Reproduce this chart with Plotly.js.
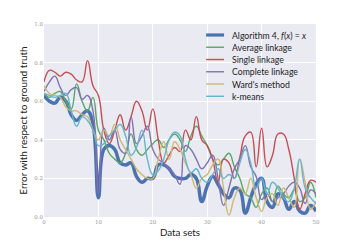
<!DOCTYPE html>
<html>
<head>
<meta charset="utf-8">
<script src="https://cdn.plot.ly/plotly-3.0.1.min.js"></script>
<style>html,body{margin:0;padding:0;background:#fff;}#chart{width:352px;height:242px;}</style>
</head>
<body>
<div id="chart"></div>
<script>
const dataSets = Array.from({length: 51}, (_, i) => i);
const seriesNames = ["Algorithm 4, <i>f</i>(<i>x</i>) = <i>x</i>", "Average linkage", "Single linkage", "Complete linkage", "Ward's method", "k-means"];
const algorithm4 = [0.63,0.60,0.59,0.62,0.60,0.53,0.50,0.53,0.55,0.48,0.10,0.35,0.37,0.35,0.28,0.27,0.28,0.21,0.18,0.20,0.20,0.27,0.27,0.25,0.21,0.20,0.20,0.22,0.20,0.08,0.16,0.21,0.17,0.12,0.10,0.15,0.14,0.02,0.10,0.17,0.20,0.08,0.05,0.12,0.10,0.04,0.08,0.03,0.02,0.06,0.03];
const averageLinkage = [0.64,0.62,0.64,0.65,0.60,0.56,0.69,0.60,0.55,0.62,0.45,0.40,0.33,0.30,0.28,0.33,0.43,0.35,0.32,0.35,0.38,0.40,0.36,0.40,0.43,0.40,0.34,0.42,0.47,0.42,0.37,0.30,0.27,0.30,0.33,0.26,0.20,0.12,0.10,0.05,0.12,0.15,0.08,0.16,0.12,0.10,0.14,0.08,0.10,0.18,0.10];
const singleLinkage = [0.70,0.76,0.75,0.73,0.75,0.74,0.71,0.70,0.81,0.68,0.63,0.45,0.38,0.45,0.53,0.45,0.52,0.60,0.55,0.45,0.56,0.40,0.28,0.32,0.36,0.34,0.45,0.40,0.52,0.40,0.37,0.30,0.18,0.30,0.28,0.20,0.31,0.42,0.44,0.26,0.46,0.26,0.32,0.43,0.43,0.35,0.20,0.04,0.12,0.19,0.18];
const completeLinkage = [0.65,0.70,0.73,0.67,0.63,0.66,0.67,0.61,0.63,0.55,0.12,0.46,0.40,0.45,0.35,0.33,0.52,0.38,0.42,0.47,0.35,0.30,0.28,0.25,0.22,0.17,0.37,0.35,0.30,0.25,0.28,0.32,0.20,0.06,0.15,0.25,0.30,0.37,0.26,0.21,0.09,0.12,0.08,0.10,0.12,0.16,0.18,0.15,0.07,0.14,0.12];
const wardsMethod = [0.68,0.64,0.63,0.62,0.57,0.55,0.55,0.53,0.52,0.45,0.40,0.45,0.42,0.48,0.40,0.35,0.30,0.25,0.22,0.20,0.20,0.30,0.39,0.30,0.39,0.35,0.28,0.22,0.15,0.20,0.22,0.27,0.30,0.15,0.01,0.10,0.15,0.12,0.20,0.10,0.03,0.10,0.12,0.06,0.15,0.10,0.05,0.30,0.18,0.04,0.08];
const kMeans = [0.64,0.63,0.62,0.63,0.64,0.55,0.47,0.52,0.50,0.45,0.37,0.38,0.42,0.45,0.48,0.42,0.32,0.36,0.45,0.30,0.22,0.24,0.30,0.40,0.44,0.42,0.30,0.23,0.25,0.20,0.18,0.22,0.25,0.20,0.22,0.20,0.28,0.35,0.28,0.15,0.20,0.12,0.18,0.15,0.10,0.08,0.15,0.30,0.15,0.10,0.07];
const xTicks = [0, 10, 20, 30, 40, 50];
const yTicks = [0.0, 0.2, 0.4, 0.6, 0.8, 1.0];

const allSeries = [algorithm4, averageLinkage, singleLinkage, completeLinkage, wardsMethod, kMeans];
const colors = ["#4C72B0", "#55A868", "#C44E52", "#8172B2", "#CCB974", "#64B5CD"];
const widths = [3.5, 1.4, 1.4, 1.4, 1.4, 1.4];

const traces = allSeries.map((ys, k) => ({
  x: dataSets, y: ys, type: 'scatter', mode: 'lines', name: seriesNames[k],
  line: {color: colors[k], width: widths[k], shape: 'spline', smoothing: 1.3}
}));

// custom legend (matplotlib-like compact spacing)
const legX0 = 0.596, legX1 = 0.662, legTextX = 0.685, legY0 = 0.943, legStep = 0.0635;
const shapes = seriesNames.map((n, k) => ({
  type: 'line', xref: 'paper', yref: 'paper', x0: legX0, x1: legX1,
  y0: legY0 - k * legStep, y1: legY0 - k * legStep,
  line: {color: colors[k], width: k === 0 ? 3.2 : 1.4}
}));
const annotations = seriesNames.map((n, k) => ({
  xref: 'paper', yref: 'paper', x: legTextX, y: legY0 - k * legStep,
  xanchor: 'left', yanchor: 'middle', showarrow: false, text: n,
  font: {family: 'Lato', size: 8.7, color: '#222'}
}));

const tickFont = {family: 'DejaVu Serif', size: 5.5, color: '#9a9a9a'};
const layout = {
  width: 352, height: 242,
  margin: {l: 44, r: 36, t: 24, b: 25},
  paper_bgcolor: '#ffffff', plot_bgcolor: '#EAEAF2',
  showlegend: false,
  shapes: shapes, annotations: annotations,
  xaxis: {range: [0, 50], tickvals: xTicks, ticktext: xTicks.map(String), showgrid: true, gridcolor: '#ffffff', gridwidth: 1,
          zeroline: false, showline: false, ticks: '', tickfont: tickFont,
          title: {text: 'Data sets', font: {family: 'Lato', size: 9.8, color: '#222'}, standoff: 5}},
  yaxis: {range: [0, 1], tickvals: yTicks, ticktext: yTicks.map(v => v.toFixed(1)), showgrid: true, gridcolor: '#ffffff', gridwidth: 1,
          zeroline: false, showline: false, ticks: '', tickfont: tickFont,
          title: {text: 'Error with respect to ground truth', font: {family: 'Lato', size: 10, color: '#222'}, standoff: 4}}
};
Plotly.newPlot('chart', traces, layout, {staticPlot: true, displayModeBar: false});
</script>
</body>
</html>
